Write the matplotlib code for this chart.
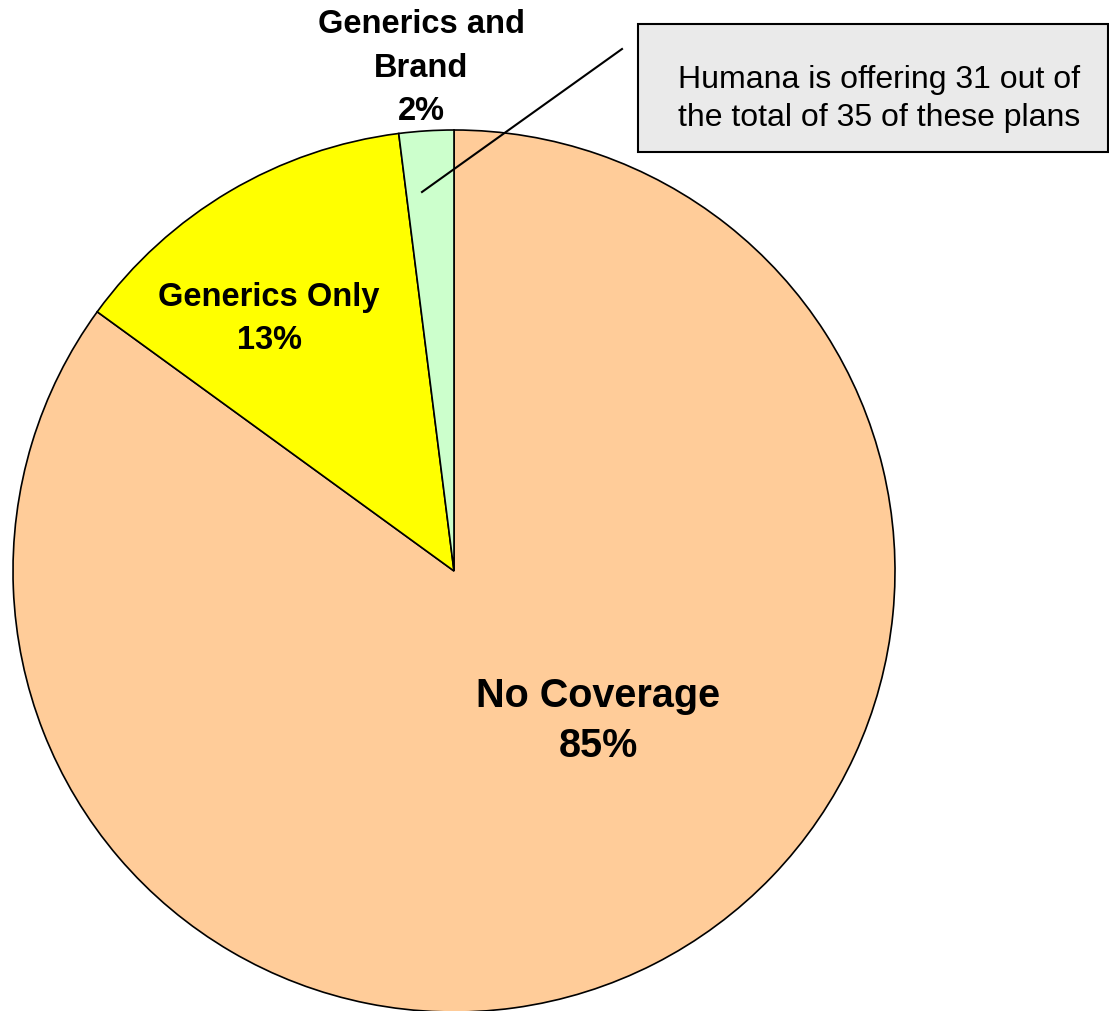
import matplotlib.pyplot as plt
from matplotlib.patches import Rectangle

plt.rcParams['font.family'] = ['Liberation Sans', 'DejaVu Sans']

labels = ['No Coverage', 'Generics Only', 'Generics and\nBrand']
shares = [85, 13, 2]
colors = ['#FFCC99', '#FFFF00', '#CCFFCC']
note = 'Humana is offering 31 out of\nthe total of 35 of these plans'

W, H = 1109, 1012
fig = plt.figure(figsize=(W / 100, H / 100), dpi=100)
ax = fig.add_axes([0, 0, 1, 1])

# pixel-like coordinates, y measured from the bottom
cx, cy, r = 454, H - 572, 441
wedges, _ = ax.pie(shares, colors=colors, startangle=90, counterclock=False,
                   center=(cx, cy), radius=r,
                   wedgeprops=dict(edgecolor='black', linewidth=1.2))
ax.set_xlim(0, W)
ax.set_ylim(0, H)
ax.set_aspect('equal')
ax.axis('off')
for w in wedges:
    w.set_clip_on(False)

ax.text(598, H - 721, f'{labels[0]}\n{shares[0]}%', ha='center', va='center',
        fontsize=28.5, fontweight='bold', linespacing=1.4)
ax.text(269, H - 319, f'{labels[1]}\n{shares[1]}%', ha='center', va='center',
        fontsize=23.5, fontweight='bold', linespacing=1.52)
ax.text(421, H - 68, f'{labels[2]}\n{shares[2]}%', ha='center', va='center',
        fontsize=23.5, fontweight='bold', linespacing=1.52)

# callout box with leader line into the small slice
ax.add_patch(Rectangle((638, H - 153), 470, 128, facecolor='#EAEAEA',
                       edgecolor='black', linewidth=1.5, clip_on=False))
ax.text(879, H - 99, note, ha='center', va='center', fontsize=23, linespacing=1.35)
ax.plot([422, 622], [H - 193, H - 50], color='black', linewidth=1.5)

fig.savefig('out.png', dpi=100)
